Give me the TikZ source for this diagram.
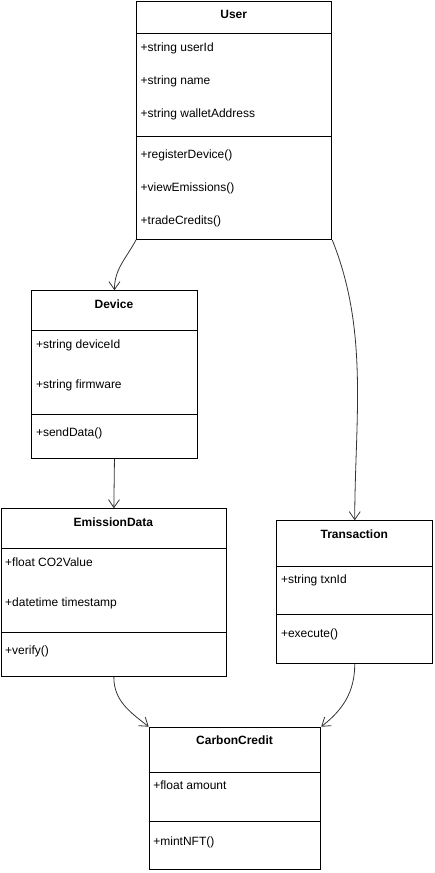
\documentclass[tikz,border=0pt]{standalone}
\usepackage{fontspec}
\setmainfont{Liberation Sans}
\usetikzlibrary{arrows.meta}
\begin{document}
\begin{tikzpicture}[x=1pt,y=-1pt,
  cls/.style={draw=black,line width=0.9pt,fill=white,inner sep=0pt,anchor=north west},
  sep/.style={draw=black,line width=0.9pt},
  ttl/.style={font=\fontsize{12}{14}\selectfont\bfseries,inner sep=0pt,text height=8.6pt,text depth=0pt},
  itm/.style={font=\fontsize{12}{14}\selectfont,inner sep=0pt,anchor=west,text height=8.6pt,text depth=0pt},
  link/.style={draw=black!80,line width=0.8pt,-{Straight Barb[length=8pt,width=11pt]}}]
\useasboundingbox (0,0) rectangle (434,873);
% User
\node[cls,minimum width=195.3pt,minimum height=238pt] (user) at (136,1) {};
\draw[sep] (136,33.3) -- (331.3,33.3);
\draw[sep] (136,136.3) -- (331.3,136.3);
\node[ttl] (userT) at (233.7,14) {User};
\node[itm] (u1) at (140.5,46.7) {+string userId};
\node[itm] (u2) at (140.5,80) {+string name};
\node[itm] (u3) at (140.5,112.7) {+string walletAddress};
\node[itm] (u4) at (140.5,154.3) {+registerDevice()};
\node[itm] (u5) at (140.5,187.3) {+viewEmissions()};
\node[itm] (u6) at (140.5,220) {+tradeCredits()};
% Device
\node[cls,minimum width=165.4pt,minimum height=168pt] (device) at (31.3,290.3) {};
\draw[sep] (31.3,330) -- (196.7,330);
\draw[sep] (31.3,414.7) -- (196.7,414.7);
\node[ttl] (devT) at (114,304) {Device};
\node[itm] (d1) at (35.8,344) {+string deviceId};
\node[itm] (d2) at (35.8,384) {+string firmware};
\node[itm] (d3) at (35.8,432) {+sendData()};
% EmissionData
\node[cls,minimum width=225.8pt,minimum height=168pt] (emission) at (0.5,508.3) {};
\draw[sep] (0.5,548.3) -- (226.3,548.3);
\draw[sep] (0.5,632.3) -- (226.3,632.3);
\node[ttl] (emT) at (113.4,522) {EmissionData};
\node[itm] (e1) at (5,562) {+float CO2Value};
\node[itm] (e2) at (5,602) {+datetime timestamp};
\node[itm] (e3) at (5,650) {+verify()};
% Transaction
\node[cls,minimum width=156pt,minimum height=142.7pt] (trans) at (276.3,520.3) {};
\draw[sep] (276.3,566) -- (432.3,566);
\draw[sep] (276.3,614.3) -- (432.3,614.3);
\node[ttl] (trT) at (354.3,534) {Transaction};
\node[itm] (t1) at (280.8,579) {+string txnId};
\node[itm] (t2) at (280.8,632.7) {+execute()};
% CarbonCredit
\node[cls,minimum width=171.6pt,minimum height=142.6pt] (credit) at (148.7,726.7) {};
\draw[sep] (148.7,772) -- (320.3,772);
\draw[sep] (148.7,821) -- (320.3,821);
\node[ttl] (ccT) at (234.5,740) {CarbonCredit};
\node[itm] (c1) at (153.2,785) {+float amount};
\node[itm] (c2) at (153.2,841) {+mintNFT()};
% connectors
\draw[link] (user.south west) to[out=-118,in=90] (device.north);
\draw[link] (user.south east) to[out=-68,in=90,looseness=0.9] (trans.north);
\draw[link] (device.south) -- (emission.north);
\draw[link] (emission.south) to[out=-90,in=142] (credit.north west);
\draw[link] (trans.south) to[out=-90,in=38] (credit.north east);
\end{tikzpicture}
\end{document}
